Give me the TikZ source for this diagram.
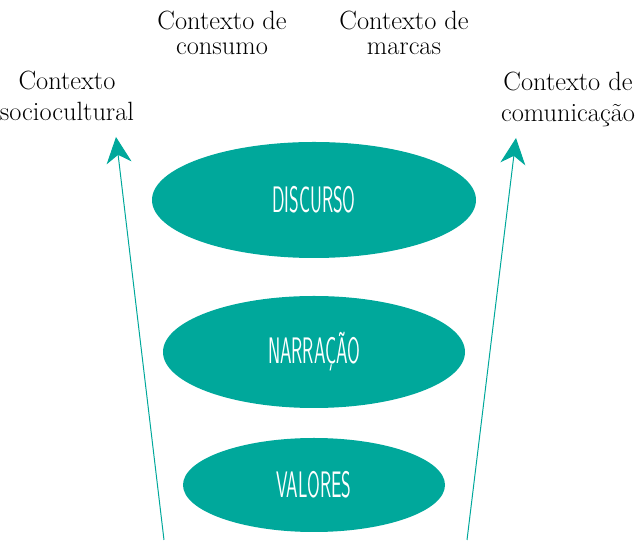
\documentclass[tikz,border=0pt]{standalone}
\usepackage{tikz}
\usetikzlibrary{arrows.meta,shapes.geometric}
\definecolor{verde}{RGB}{0,168,155}
\tikzset{
  nivel/.style={ellipse,fill=verde,draw=none,inner sep=0pt,text=white,
    font=\fontsize{37}{37}\selectfont\sffamily},
  contexto/.style={align=center,font=\fontsize{26.5}{25}\selectfont},
  eixo/.style={draw=verde,line width=1pt,-{Stealth[length=26bp,width=25bp,inset=8bp]}}
}
\newcommand{\estreito}[1]{\scalebox{0.5}[1]{#1}}
\begin{document}
\begin{tikzpicture}[x=1bp,y=1bp]
\useasboundingbox (0,0) rectangle (638,543);
%\draw [help lines,step=50] (0,0) grid (638,543);
\node [nivel,minimum width=324bp,minimum height=116bp] (disc) at (314,343) {\estreito{DISCURSO}};
\node [nivel,minimum width=302bp,minimum height=112bp] (narr) at (314,191) {\estreito{NARRAÇÃO}};
\node [nivel,minimum width=262bp,minimum height=94bp] (val) at (314,58) {\estreito{VALORES}};
\node [contexto] (cons) at (222,510) {Contexto de\\consumo};
\node [contexto] (marc) at (404,510) {Contexto de\\marcas};
\node [contexto] (soc) at (67,447) {Contexto\\[6bp]sociocultural};
\node [contexto] (com) at (568,444) {Contexto de\\[6bp]comunicação};
\coordinate (socbase) at (164,3);
\coordinate (soctip) at (116,406);
\coordinate (combase) at (467,3);
\coordinate (comtip) at (516,405);
\draw [eixo] (socbase) -- (soctip);
\draw [eixo] (combase) -- (comtip);
\end{tikzpicture}
\end{document}
